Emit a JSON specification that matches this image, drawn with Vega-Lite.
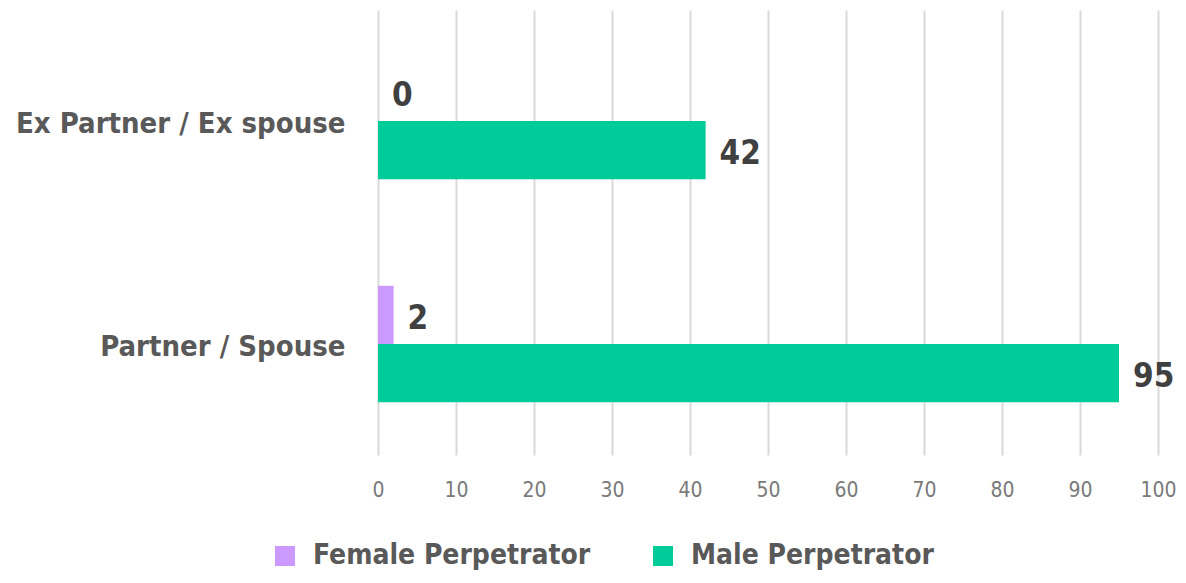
{
  "$schema": "https://vega.github.io/schema/vega-lite/v6.json",
  "autosize": {"type": "none"},
  "padding": {"left": 378, "top": 10, "right": 28, "bottom": 128},
  "width": 780,
  "height": 445,
  "background": "white",
  "config": {
    "view": {"stroke": null},
    "font": "DejaVu Sans Condensed, Open Sans, sans-serif"
  },
  "data": {
    "values": [
      {"category": "Ex Partner / Ex spouse", "series": "Female Perpetrator", "value": 0},
      {"category": "Ex Partner / Ex spouse", "series": "Male Perpetrator", "value": 42},
      {"category": "Partner / Spouse", "series": "Female Perpetrator", "value": 2},
      {"category": "Partner / Spouse", "series": "Male Perpetrator", "value": 95}
    ]
  },
  "encoding": {
    "y": {
      "field": "category",
      "type": "nominal",
      "sort": ["Ex Partner / Ex spouse", "Partner / Spouse"],
      "scale": {"paddingInner": 0.478, "paddingOuter": 0.237},
      "axis": {
        "title": null,
        "domain": false,
        "ticks": false,
        "labelFont": "DejaVu Sans Condensed, Open Sans, sans-serif",
        "labelFontWeight": "bold",
        "labelFontSize": 29,
        "labelColor": "#595959",
        "labelPadding": 33,
        "labelOffset": 3,
        "labelLimit": 400
      }
    },
    "yOffset": {
      "field": "series",
      "type": "nominal",
      "sort": ["Female Perpetrator", "Male Perpetrator"],
      "scale": {"paddingInner": 0, "paddingOuter": 0}
    },
    "x": {
      "field": "value",
      "type": "quantitative",
      "scale": {"domain": [0, 100], "nice": false},
      "axis": {
        "title": null,
        "values": [0, 10, 20, 30, 40, 50, 60, 70, 80, 90, 100],
        "grid": true,
        "gridColor": "#d9d9d9",
        "gridWidth": 2,
        "domain": false,
        "ticks": false,
        "labelFont": "DejaVu Sans Condensed, Open Sans, sans-serif",
        "labelFontSize": 21,
        "labelColor": "#7a7a7a",
        "labelPadding": 24,
        "labelFlush": false
      }
    }
  },
  "layer": [
    {
      "mark": {"type": "bar"},
      "encoding": {
        "color": {
          "field": "series",
          "type": "nominal",
          "sort": ["Female Perpetrator", "Male Perpetrator"],
          "scale": {"domain": ["Female Perpetrator", "Male Perpetrator"], "range": ["#cc99ff", "#00cc99"]},
          "legend": {
            "title": null,
            "orient": "none",
            "direction": "horizontal",
            "legendX": -107,
            "legendY": 532,
            "symbolType": "square",
            "symbolSize": 400,
            "symbolStrokeWidth": 0,
            "labelFont": "DejaVu Sans Condensed, Open Sans, sans-serif",
            "labelFontWeight": "bold",
            "labelFontSize": 28,
            "labelColor": "#595959",
            "labelOffset": 14,
            "columnPadding": 58,
            "labelLimit": 400
          }
        }
      }
    },
    {
      "mark": {
        "type": "text",
        "align": "left",
        "baseline": "middle",
        "dx": 14,
        "dy": 4,
        "font": "DejaVu Sans Condensed, Open Sans, sans-serif",
        "fontWeight": "bold",
        "fontSize": 33,
        "color": "#404040"
      },
      "encoding": {
        "text": {"field": "value", "type": "quantitative"}
      }
    }
  ]
}
